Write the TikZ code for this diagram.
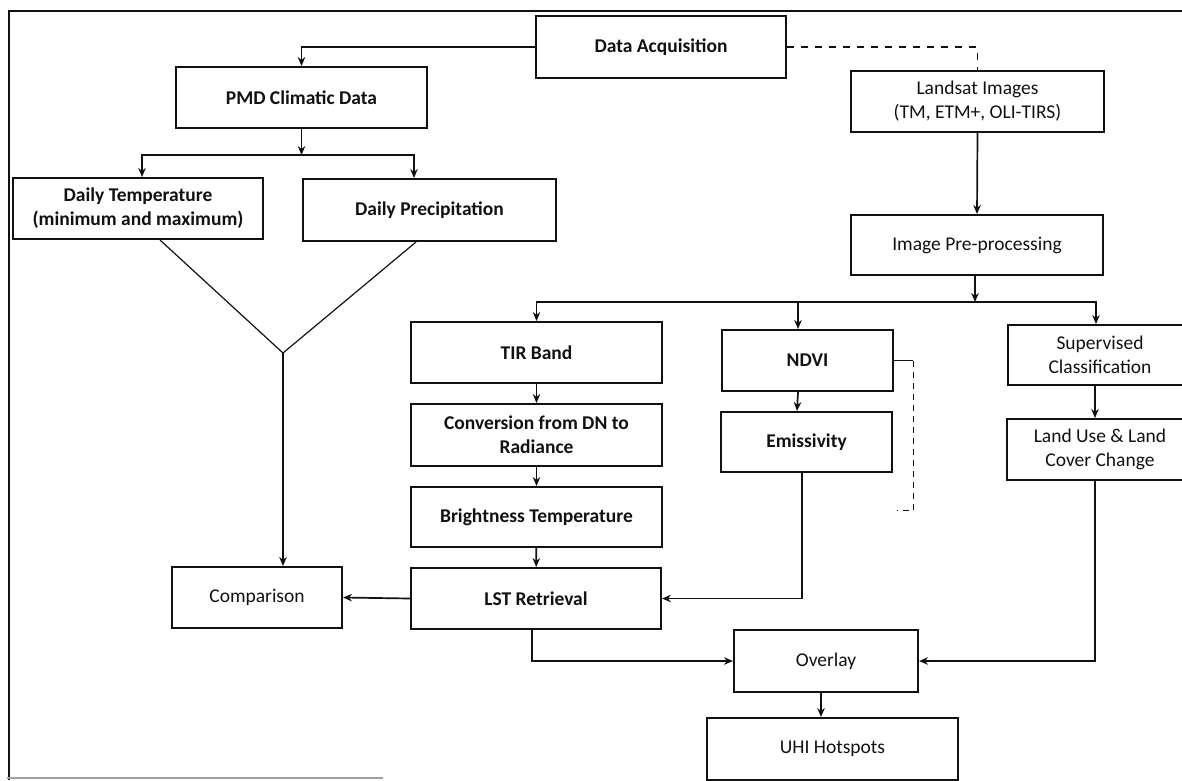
\documentclass[tikz,border=0pt]{standalone}
\usepackage{fontspec}
\setmainfont{Carlito}
\usetikzlibrary{arrows.meta,positioning,calc}
\definecolor{Ink}{HTML}{111111}
\definecolor{Edge}{HTML}{A0A0A0}
\tikzset{
  blk/.style={draw=Ink,line width=2pt,inner sep=2pt,align=center,text=Ink,
    font=\fontsize{19.5}{24}\selectfont},
  blkb/.style={blk,font=\fontsize{19.5}{24}\selectfont\bfseries},
  arr/.style={draw=Ink,line width=1.7pt,-{Stealth[length=9pt,width=7.5pt]}},
  lnk/.style={draw=Ink,line width=1.7pt}}
\newcommand{\bx}[7]{%
  \node[#1,minimum width=#5pt,minimum height=#6pt] (#2) at (#3,#4) {#7};}

\begin{document}
\begin{tikzpicture}[x=1pt,y=-1pt]
  \useasboundingbox (0,0) rectangle (1182,780);
  \clip (0,0) rectangle (1182,780);
  % frame
  \draw[Ink,line width=2pt] (9,780) -- (9,11) -- (1182,11);
  \draw[Edge,line width=1.2pt] (7,778) -- (383,778);
  % left branch
  \bx{blkb}{acq}{661}{47}{250}{62}{Data Acquisition}
  \bx{blkb}{pmd}{301.5}{97.5}{251}{61}{PMD Climatic Data}
  \bx{blkb}{dtemp}{138}{208.5}{250}{61}{Daily Temperature\\(minimum and maximum)}
  \bx{blkb}{dprec}{429.5}{210}{253}{62}{Daily Precipitation}
  \bx{blk}{comp}{257}{597.5}{170}{61}{Comparison}
  % right branch
  \bx{blk}{lsat}{977.5}{101.5}{253}{61}{Landsat Images\\(TM, ETM+, OLI-TIRS)}
  \bx{blk}{prep}{977}{245}{252}{60}{Image Pre-processing}
  \bx{blkb}{tir}{536.5}{352.5}{251}{61}{TIR Band}
  \bx{blkb}{conv}{536.5}{435}{251}{62}{Conversion from DN to\\Radiance}
  \bx{blkb}{bright}{536.5}{517}{251}{60}{Brightness Temperature}
  \bx{blkb}{lst}{536}{598.5}{250}{61}{LST Retrieval}
  \bx{blkb}{ndvi}{807.5}{360.5}{171}{61}{NDVI}
  \bx{blkb}{emis}{806.5}{442}{171}{60}{Emissivity}
  \bx{blk}{superv}{1100}{355}{184}{60}{Supervised\\Classification}
  \bx{blk}{luc}{1100}{449.5}{186}{61}{Land Use \& Land\\Cover Change}
  \bx{blk}{ovl}{826}{661}{184}{62}{Overlay}
  \bx{blk}{uhi}{832.5}{749}{251}{62}{UHI Hotspots}
  % junctions
  \coordinate (j1) at (301.5,155);
  \coordinate (j2) at (975,302);
  \coordinate (apex) at (283,353);
  % climatic connectors
  \draw[arr] (acq.west) -| (pmd.north);
  \draw[arr] (pmd.south) -- (j1);
  \draw[arr] (j1) -| ([xshift=4pt]dtemp.north);
  \draw[arr] (j1) -| ([xshift=-15.5pt]dprec.north);
  \draw[Ink,line width=1.2pt] ([xshift=22pt]dtemp.south) -- (apex)
    -- ([xshift=-13.5pt]dprec.south);
  \draw[arr] (apex) -- (apex |- comp.north);
  \draw[arr] (lst.west) -- (comp.east);
  % landsat connectors
  \draw[Ink,line width=1.2pt,dash pattern=on 7pt off 7pt] (acq.east) -| (lsat.north);
  \draw[arr] (lsat.south) -- (prep.north);
  \draw[arr] (prep.south -| j2) -- (j2);
  \draw[arr] (j2) -| (tir.north);
  \draw[arr] (j2) -| ([xshift=-4pt]superv.north);
  \draw[arr] ([xshift=-9.5pt]ndvi.north |- j2) -- ([xshift=-9.5pt]ndvi.north);
  \draw[arr] (tir) -- (conv);
  \draw[arr] (conv) -- (bright);
  \draw[arr] (bright) -- (lst);
  \draw[arr] ([xshift=-9.5pt]ndvi.south) -- ([xshift=-9.5pt]emis.north);
  \draw[lnk] (ndvi.east) -- ++(19,0) coordinate (nd);
  \draw[Ink,line width=1pt,dash pattern=on 6pt off 5pt] (nd) -- ++(0,150) -- ++(-16,0);
  \draw[arr] ([xshift=-4.5pt]emis.south) |- (lst.east);
  \draw[arr] ([xshift=-5pt]superv.south) -- ([xshift=-5pt]luc.north);
  \draw[arr] ([xshift=-5pt]luc.south) |- (ovl.east);
  \draw[arr] ([xshift=-4pt]lst.south) |- (ovl.west);
  \draw[arr] ([xshift=-5pt]ovl.south) -- ([xshift=-5pt]ovl.south |- uhi.north);
\end{tikzpicture}
\end{document}
